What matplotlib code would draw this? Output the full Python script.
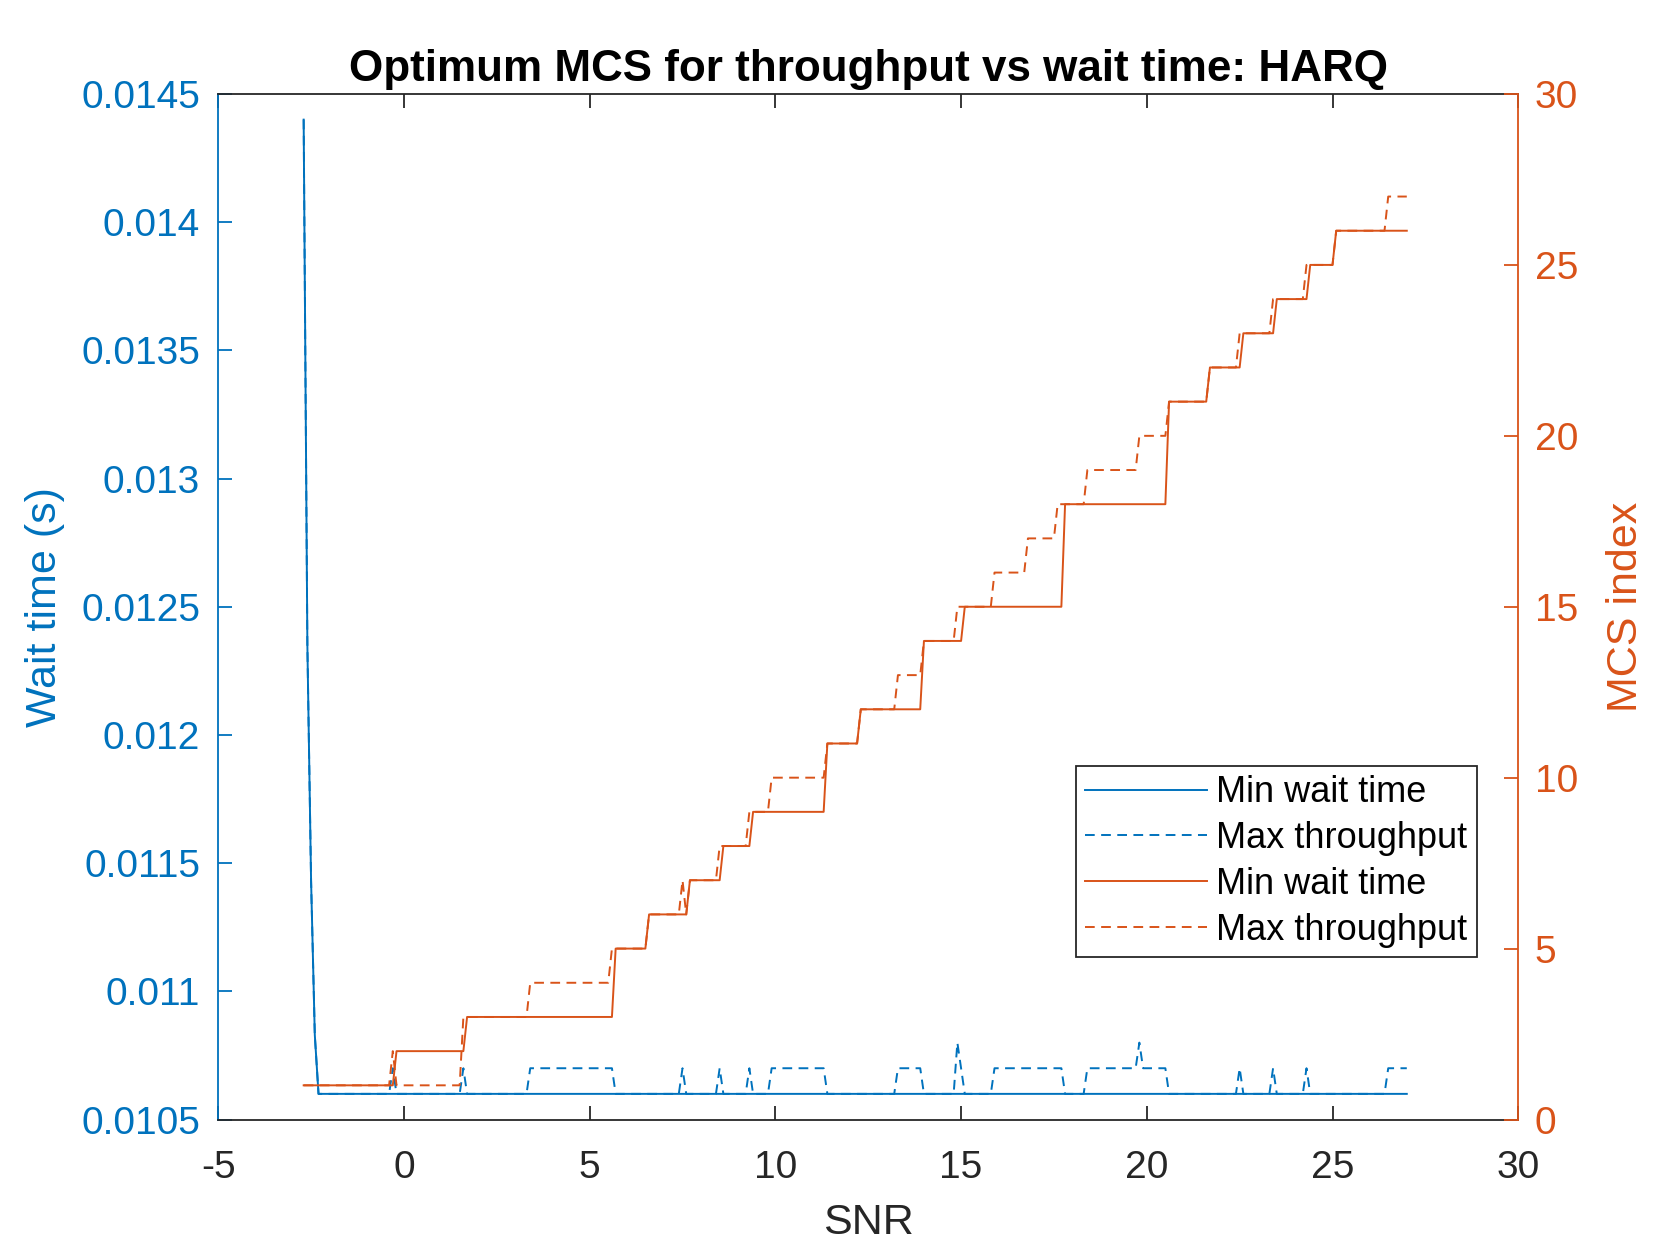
#!/usr/bin/env python3
"""Optimum MCS for throughput vs wait time (HARQ), two y axes."""

import matplotlib
matplotlib.use("Agg")
import matplotlib.pyplot as plt

# SNR sampling of the simulation (dB)
snr_step = 0.1
snr_last = 27.0

# Left axis: wait time (s). Each series is given as the SNR where a new
# value first appears and that value.
wait_min_snr = [-2.7, -2.6, -2.5, -2.4, -2.3]
wait_min_val = [0.0144, 0.01235, 0.01143, 0.01083, 0.0106]

wait_tp_snr = [-2.7, -2.6, -2.5, -2.4, -2.3, -0.3, -0.2, 1.6, 1.7, 3.4,
               5.7, 7.5, 7.6, 8.5, 8.6, 9.3, 9.4, 9.9, 11.4, 13.3, 14.0,
               14.9, 15.0, 15.1, 15.9, 17.8, 18.4, 19.8, 19.9, 20.6, 22.5,
               22.6, 23.4, 23.5, 24.3, 24.4, 26.5]
wait_tp_val = [0.0144, 0.01235, 0.01143, 0.01083, 0.0106, 0.0107, 0.0106,
               0.0107, 0.0106, 0.0107, 0.0106, 0.0107, 0.0106, 0.0107,
               0.0106, 0.0107, 0.0106, 0.0107, 0.0106, 0.0107, 0.0106,
               0.0108, 0.0107, 0.0106, 0.0107, 0.0106, 0.0107, 0.0108,
               0.0107, 0.0106, 0.0107, 0.0106, 0.0107, 0.0106, 0.0107,
               0.0106, 0.0107]

# Right axis: MCS index
mcs_min_snr = [-2.7, -0.2, 1.7, 5.7, 6.6, 7.7, 8.6, 9.4, 11.4, 12.3, 14.0,
               15.1, 17.8, 20.6, 21.7, 22.6, 23.5, 24.4, 25.1]
mcs_min_val = [1, 2, 3, 5, 6, 7, 8, 9, 11, 12, 14, 15, 18, 21, 22, 23, 24,
               25, 26]

mcs_tp_snr = [-2.7, -0.3, -0.2, 1.6, 3.4, 5.6, 6.6, 7.5, 7.6, 7.7, 8.5, 9.3,
              9.9, 11.4, 12.3, 13.3, 14.0, 14.9, 15.9, 16.8, 17.6, 18.4,
              19.8, 20.6, 21.7, 22.5, 23.4, 24.3, 25.1, 26.5]
mcs_tp_val = [1, 2, 1, 3, 4, 5, 6, 7, 6, 7, 8, 9, 10, 11, 12, 13, 14, 15, 16,
              17, 18, 19, 20, 21, 22, 23, 24, 25, 26, 27]

x_ticks = [-5, 0, 5, 10, 15, 20, 25, 30]
wait_ticks = [0.0105, 0.011, 0.0115, 0.012, 0.0125, 0.013, 0.0135, 0.014,
              0.0145]
mcs_ticks = [0, 5, 10, 15, 20, 25, 30]

legend_labels = ["Min wait time", "Max throughput",
                 "Min wait time", "Max throughput"]

BLUE = "#0072BD"
ORANGE = "#D95319"
DARK = "#262626"


def vertices(snr, val):
    """Polyline through the samples: value changes between two samples."""
    xs, ys = [snr[0]], [val[0]]
    for s, prev, new in zip(snr[1:], val[:-1], val[1:]):
        xs += [round(s - snr_step, 1), s]
        ys += [prev, new]
    xs.append(snr_last)
    ys.append(val[-1])
    return xs, ys


def main():
    plt.rcParams["font.family"] = ["Liberation Sans", "DejaVu Sans"]
    fig = plt.figure(figsize=(16.8, 12.6), dpi=100)
    ax = fig.add_axes([0.1299, 0.1115, 0.7738, 0.8139])
    ax2 = ax.twinx()

    lw = 1.4
    dash = (5, 3.3)
    l1, = ax.plot(*vertices(wait_min_snr, wait_min_val), color=BLUE, lw=lw)
    l2, = ax.plot(*vertices(wait_tp_snr, wait_tp_val), color=BLUE, lw=lw,
                  linestyle="--", dashes=dash)
    l3, = ax2.plot(*vertices(mcs_min_snr, mcs_min_val), color=ORANGE, lw=lw)
    l4, = ax2.plot(*vertices(mcs_tp_snr, mcs_tp_val), color=ORANGE, lw=lw,
                   linestyle="--", dashes=dash)

    ax.set_xlim(-5, 30)
    ax.set_ylim(0.0105, 0.0145)
    ax2.set_ylim(0, 30)

    ax.set_xticks(x_ticks)
    ax.set_xticklabels([str(t) for t in x_ticks])
    ax.set_yticks(wait_ticks)
    ax.set_yticklabels([f"{t:g}" for t in wait_ticks])
    ax2.set_yticks(mcs_ticks)
    ax2.set_yticklabels([str(t) for t in mcs_ticks])

    fs = 28
    ax.tick_params(axis="x", direction="in", length=10, width=1.3,
                   top=True, color=DARK, labelcolor=DARK, labelsize=fs,
                   pad=22)
    ax.tick_params(axis="y", direction="in", length=10, width=1.3,
                   color=BLUE, labelcolor=BLUE, labelsize=fs, pad=13)
    ax2.tick_params(axis="y", direction="in", length=10, width=1.3,
                    color=ORANGE, labelcolor=ORANGE, labelsize=fs, pad=12)

    for sp in ["top", "bottom"]:
        ax.spines[sp].set_color(DARK)
        ax.spines[sp].set_linewidth(1.3)
    ax.spines["left"].set_color(BLUE)
    ax.spines["left"].set_linewidth(1.3)
    ax.spines["right"].set_visible(False)
    ax2.spines["right"].set_color(ORANGE)
    ax2.spines["right"].set_linewidth(1.3)
    for sp in ["left", "top", "bottom"]:
        ax2.spines[sp].set_visible(False)

    ax.set_xlabel("SNR", fontsize=31, color=DARK, labelpad=12)
    ax.set_ylabel("Wait time (s)", fontsize=31, color=BLUE, labelpad=12)
    ax2.set_ylabel("MCS index", fontsize=31, color=ORANGE, labelpad=20)
    ax.set_title("Optimum MCS for throughput vs wait time: HARQ",
                 fontsize=31.7, fontweight="bold", pad=9)

    leg = ax2.legend([l1, l2, l3, l4], legend_labels, loc="upper right",
                     bbox_to_anchor=(0.968, 0.3445), borderaxespad=0,
                     fontsize=26, frameon=True, fancybox=False,
                     handlelength=3.4, handletextpad=0.25, labelspacing=0.3,
                     borderpad=0.25)
    leg.get_frame().set_edgecolor(DARK)
    leg.get_frame().set_linewidth(1.3)
    leg.get_frame().set_alpha(1)

    fig.savefig("out.png", dpi=100, facecolor="white")


if __name__ == "__main__":
    main()
